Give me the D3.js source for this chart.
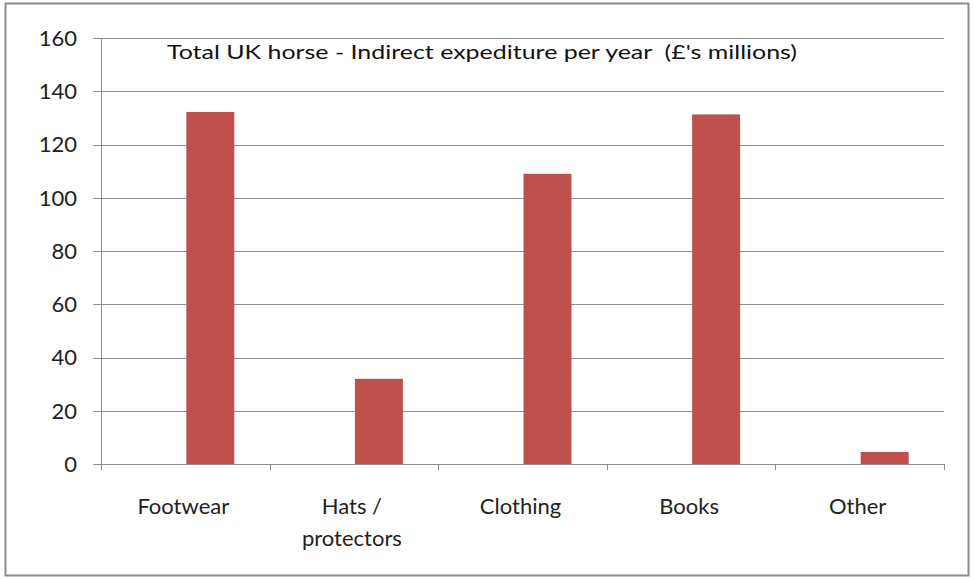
<!DOCTYPE html>
<html><head><meta charset="utf-8">
<script src="https://cdn.jsdelivr.net/npm/d3@7"></script>
<style>body{margin:0;background:#fff;}svg{display:block;font-family:Lato,"Open Sans",sans-serif;}text{white-space:pre;}</style>
</head><body>
<svg id="c" width="974" height="579"></svg>
<script>
const categories = [["Footwear"], ["Hats /", "protectors"], ["Clothing"], ["Books"], ["Other"]];
const values = [132.2, 32, 109, 131.3, 4.5];
const yTicks = [0, 20, 40, 60, 80, 100, 120, 140, 160];
const title = "Total UK horse - Indirect expediture per year  (£'s millions)";

const svg = d3.select("#c");
const L = 101, R = 944, T = 38, B = 464;

svg.append("rect").attr("x", 5.5).attr("y", 3.5).attr("width", 963).attr("height", 572)
  .attr("fill", "#fff").attr("stroke", "#8c8c8c").attr("stroke-width", 2);

const x = d3.scaleBand().domain(d3.range(categories.length)).range([L, R]);
const y = d3.scaleLinear().domain([0, 160]).range([B, T]);

// gridlines
svg.append("g").selectAll("line").data(yTicks).join("line")
  .attr("x1", L - 8).attr("x2", R).attr("y1", d => Math.round(y(d)) + 0.5).attr("y2", d => Math.round(y(d)) + 0.5)
  .attr("stroke", "#8e8e8e").attr("stroke-width", 1);

// y axis line
svg.append("line").attr("x1", L + 0.5).attr("x2", L + 0.5).attr("y1", T).attr("y2", B + 6)
  .attr("stroke", "#8e8e8e");
// x category ticks
svg.append("g").selectAll("line").data(d3.range(categories.length + 1)).join("line")
  .attr("x1", i => Math.round(L + i * x.step()) + 0.5).attr("x2", i => Math.round(L + i * x.step()) + 0.5)
  .attr("y1", B).attr("y2", B + 6).attr("stroke", "#8e8e8e");

// y labels
svg.append("g").selectAll("text").data(yTicks).join("text")
  .attr("x", 77).attr("y", d => y(d)).attr("dy", "0.36em").attr("text-anchor", "end")
  .attr("font-size", 22).attr("fill", "#222").text(d => d);

// bars (second series slot of each category)
const bw = 48;
svg.append("g").selectAll("rect").data(values).join("rect")
  .attr("x", (d, i) => x(i) + x.bandwidth() / 2 + 1)
  .attr("y", d => y(d)).attr("width", bw).attr("height", d => B - y(d))
  .attr("fill", "#C0504D");

// category labels
const cl = svg.append("g").selectAll("text").data(categories).join("text")
  .attr("text-anchor", "middle").attr("font-size", 22).attr("fill", "#222");
cl.each(function(lines, i) {
  const t = d3.select(this);
  lines.forEach((s, j) => t.append("tspan").attr("x", x(i) + x.bandwidth() / 2 - 2).attr("y", 514 + j * 32).text(s));
});

// title
svg.append("text").attr("x", 167).attr("y", 59).attr("font-size", 20).attr("fill", "#111")
  .attr("textLength", 630).attr("lengthAdjust", "spacingAndGlyphs").text(title);
</script>
</body></html>
